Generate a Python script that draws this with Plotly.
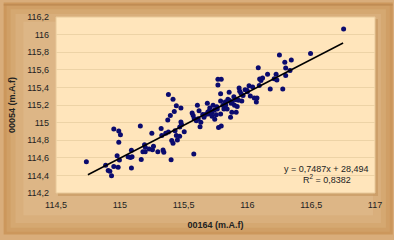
import numpy as np
import plotly.graph_objects as go

x_vals = [114.738, 114.889, 114.909, 114.922, 114.935, 114.953, 114.953, 114.979, 114.987, 114.992,
          115.005, 114.992, 114.997, 115.065, 115.083, 115.091, 115.091, 115.096, 115.161, 115.168,
          115.181, 115.194, 115.199, 115.251, 115.256, 115.264, 115.298, 115.324, 115.329, 115.339,
          115.345, 115.381, 115.376, 115.381, 115.396, 115.402, 115.407, 115.417, 115.417, 115.427,
          115.433, 115.443, 115.443, 115.451, 115.469, 115.479, 115.479, 115.484, 115.505, 115.567,
          115.575, 115.580, 115.583, 115.608, 115.614, 115.621, 115.629, 115.635, 115.650, 115.671,
          115.686, 115.692, 115.705, 115.712, 115.723, 115.731, 115.744, 115.756, 115.764, 115.769,
          115.769, 115.774, 115.790, 115.795, 115.790, 115.790, 115.795, 115.808, 115.816, 115.826,
          115.841, 115.847, 115.857, 115.868, 115.873, 115.878, 115.894, 115.899, 115.912, 115.920,
          115.930, 115.935, 115.940, 115.956, 115.966, 115.982, 115.997, 116.013, 116.023, 116.041,
          116.054, 116.070, 116.075, 116.085, 116.093, 116.096, 116.106, 116.119, 116.158, 116.179,
          116.210, 116.225, 116.231, 116.251, 116.277, 116.293, 116.300, 116.300, 116.334, 116.344,
          116.495, 116.754,
          115.700, 115.720, 115.760, 115.740, 115.830, 115.860, 115.880, 115.910, 115.950, 116.000,
          115.660, 115.690, 115.600, 115.200, 115.230, 115.360, 115.470]
y_vals = [114.556, 114.516, 114.457, 114.446, 114.395, 114.501, 114.927, 114.622, 114.494, 114.905,
          114.861, 114.776, 114.574, 114.611, 114.604, 114.483, 114.685, 114.611, 114.960, 114.582,
          114.670, 114.747, 114.670, 114.879, 114.692, 114.732, 114.670, 114.934, 114.853, 114.688,
          114.662, 115.319, 115.030, 114.894, 115.081, 114.578, 114.798, 115.264, 114.765, 115.125,
          114.908, 115.191, 114.853, 114.802, 114.846, 115.165, 115.008, 114.978, 114.897, 115.110,
          115.081, 114.644, 115.044, 115.198, 115.044, 115.136, 114.952, 115.004, 115.092, 115.092,
          115.220, 115.099, 115.165, 115.117, 115.073, 115.198, 115.037, 115.088, 115.154, 115.492,
          115.426, 114.945, 115.099, 115.492, 115.327, 115.246, 114.960, 115.198, 115.154, 115.235,
          115.154, 115.264, 115.345, 115.062, 115.220, 115.117, 115.294, 115.198, 115.117, 115.183,
          115.253, 115.393, 115.356, 115.246, 115.308, 115.374, 115.367, 115.419, 115.301, 115.404,
          115.279, 115.235, 115.279, 115.624, 115.423, 115.496, 115.477, 115.507, 115.550, 115.382,
          115.499, 115.550, 115.484, 115.767, 115.382, 115.686, 115.620, 115.536, 115.591, 115.712,
          115.785, 116.064,
          115.130, 115.110, 115.180, 115.140, 115.200, 115.250, 115.230, 115.260, 115.330, 115.350,
          115.060, 115.120, 115.020, 114.720, 114.700, 114.880, 114.950]

slope = 0.7487
intercept = 28.494
trend_x = [114.75, 116.75]

x_ticks = [114.5, 115, 115.5, 116, 116.5, 117]
x_ticktext = ["114,5", "115", "115,5", "116", "116,5", "117"]
y_ticks = [114.2, 114.4, 114.6, 114.8, 115.0, 115.2, 115.4, 115.6, 115.8, 116.0, 116.2]
y_ticktext = ["114,2", "114,4", "114,6", "114,8", "115", "115,2", "115,4", "115,6", "115,8", "116", "116,2"]

W, H = 394, 240
ML, MR, MT, MB = 53, 18, 15, 43
pw, ph = W - ML - MR, H - MT - MB

def px2paper_x(px):
    return (px - ML) / pw

def px2paper_y(py):
    return (H - MB - py) / ph

fig = go.Figure()
fig.add_trace(go.Scatter(x=x_vals, y=y_vals, mode="markers",
                         marker=dict(color="#0B0B6E", size=5, line=dict(width=0)),
                         hoverinfo="skip", showlegend=False))
tx = np.array(trend_x)
fig.add_trace(go.Scatter(x=tx, y=slope * tx + intercept, mode="lines",
                         line=dict(color="#000000", width=1.5),
                         hoverinfo="skip", showlegend=False))

shapes = []
steps = [(0, "#CC975C"), (3, "#D09F66"), (7, "#D5A871"), (12, "#D9AF7C"), (20, "#DDB686")]
for inset, col in steps:
    shapes.append(dict(type="rect", xref="paper", yref="paper", layer="below",
                       x0=px2paper_x(inset), x1=px2paper_x(W - inset),
                       y0=px2paper_y(H - inset), y1=px2paper_y(inset),
                       fillcolor=col, line=dict(width=0)))
shapes.append(dict(type="line", xref="paper", yref="paper", layer="below",
                   x0=px2paper_x(0), x1=px2paper_x(W), y0=px2paper_y(2.5), y1=px2paper_y(2.5),
                   line=dict(color="#B98650", width=1)))
shapes.append(dict(type="rect", xref="paper", yref="paper", layer="below",
                   x0=px2paper_x(ML + 2), x1=px2paper_x(ML + pw + 3),
                   y0=px2paper_y(MT + ph + 3), y1=px2paper_y(MT + 2),
                   fillcolor="#C4945E", opacity=0.6, line=dict(width=0)))
shapes.append(dict(type="rect", xref="paper", yref="paper", layer="below",
                   x0=0, x1=1, y0=0, y1=1,
                   fillcolor="#FFE5BB", line=dict(color="#E8C99A", width=1)))
fig.update_layout(shapes=shapes)

font = "Liberation Sans, Arial, sans-serif"
fig.update_layout(
    width=W, height=H,
    margin=dict(l=ML, r=MR, t=MT, b=MB, pad=0),
    paper_bgcolor="#D9AD7B",
    plot_bgcolor="rgba(0,0,0,0)",
    font=dict(family=font, size=9, color="#222222"),
    xaxis=dict(range=[114.5, 117], tickvals=x_ticks, ticktext=x_ticktext,
               showgrid=False, zeroline=False, showline=False, ticks="",
               ticklabelstandoff=5,
               tickfont=dict(size=9, color="#222222"),
               title=dict(text="<b>00164 (m.A.f)</b>", font=dict(size=9, color="#222222"), standoff=12)),
    yaxis=dict(range=[114.2, 116.2], tickvals=y_ticks, ticktext=y_ticktext,
               showgrid=True, gridcolor="#EDD3A6", gridwidth=1, zeroline=False, showline=False, ticks="",
               ticklabelstandoff=6,
               tickfont=dict(size=9, color="#222222"),
               title=dict(text="<b>00054 (m.A.f)</b>", font=dict(size=9, color="#222222"), standoff=9)),
    annotations=[
        dict(x=px2paper_x(372), y=px2paper_y(172), xref="paper", yref="paper",
             text="y = 0,7487x + 28,494", showarrow=False, xanchor="right", yanchor="middle",
             font=dict(size=9, color="#222222")),
        dict(x=px2paper_x(354), y=px2paper_y(183), xref="paper", yref="paper",
             text="R<sup>2</sup> = 0,8382", showarrow=False, xanchor="right", yanchor="middle",
             font=dict(size=9, color="#222222")),
    ],
)

fig.write_html("out.html")
